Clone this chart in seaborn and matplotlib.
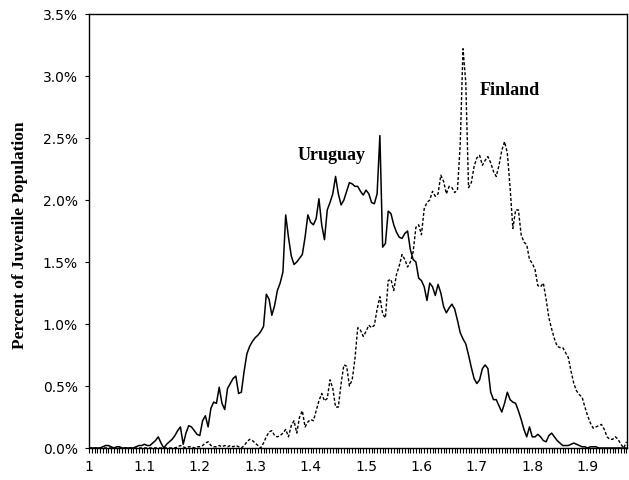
import numpy as np
import pandas as pd
import seaborn as sns
import matplotlib
matplotlib.use("Agg")
import matplotlib.pyplot as plt
from matplotlib.ticker import MultipleLocator, FuncFormatter

# Dados: percentual da populacao juvenil por valor (passo 0.005)
valores_x = np.round(1.0 + 0.005 * np.arange(195), 3)

uruguay = [
    0, 0, 0, 0, 0, 0.01, 0.02, 0.02, 0.01, 0,
    0.01, 0.01, 0, 0, 0, 0, 0, 0.01, 0.02, 0.02,
    0.03, 0.02, 0.02, 0.04, 0.06, 0.09, 0.04, 0.00, 0.03, 0.05,
    0.07, 0.10, 0.14, 0.17, 0.03, 0.12, 0.18, 0.17, 0.14, 0.11,
    0.10, 0.22, 0.26, 0.17, 0.32, 0.37, 0.36, 0.49, 0.36, 0.31,
    0.48, 0.52, 0.56, 0.58, 0.44, 0.45, 0.62, 0.76, 0.82, 0.86,
    0.89, 0.91, 0.94, 0.98, 1.24, 1.20, 1.07, 1.15, 1.27, 1.33,
    1.42, 1.88, 1.70, 1.55, 1.48, 1.50, 1.53, 1.56, 1.70, 1.88,
    1.82, 1.80, 1.85, 2.01, 1.80, 1.68, 1.92, 1.98, 2.05, 2.19,
    2.05, 1.96, 2.00, 2.07, 2.14, 2.13, 2.11, 2.11, 2.07, 2.04,
    2.08, 2.05, 1.98, 1.97, 2.05, 2.52, 1.62, 1.65, 1.91, 1.89,
    1.80, 1.74, 1.70, 1.69, 1.73, 1.75, 1.60, 1.52, 1.50, 1.37,
    1.35, 1.30, 1.19, 1.33, 1.30, 1.23, 1.32, 1.25, 1.14, 1.09,
    1.13, 1.16, 1.12, 1.03, 0.93, 0.88, 0.84, 0.75, 0.65, 0.56,
    0.52, 0.55, 0.64, 0.67, 0.64, 0.45, 0.39, 0.39, 0.34, 0.29,
    0.36, 0.45, 0.39, 0.37, 0.36, 0.30, 0.23, 0.15, 0.09, 0.17,
    0.09, 0.09, 0.11, 0.09, 0.06, 0.05, 0.10, 0.12, 0.09, 0.06,
    0.04, 0.02, 0.02, 0.02, 0.03, 0.04, 0.03, 0.02, 0.01, 0.01,
    0, 0.01, 0.01, 0.01, 0, 0, 0, 0, 0, 0,
    0, 0, 0, 0, 0,
]

finland = [
    0, 0, 0, 0, 0, 0, 0, 0, 0, 0,
    0, 0, 0, 0, 0, 0, 0, 0, 0, 0,
    0, 0, 0, 0, 0, 0, 0, 0, 0, 0,
    0, 0, 0.01, 0.02, 0.01, 0, 0.01, 0.01, 0, 0.01,
    0.01, 0.02, 0.04, 0.05, 0.02, 0.01, 0.01, 0.02, 0.01, 0.02,
    0.01, 0.02, 0.01, 0.02, 0.01, 0.00, 0.02, 0.05, 0.07, 0.06,
    0.04, 0.02, 0.00, 0.04, 0.09, 0.13, 0.14, 0.10, 0.09, 0.10,
    0.12, 0.15, 0.09, 0.18, 0.22, 0.12, 0.25, 0.30, 0.17, 0.21,
    0.23, 0.22, 0.30, 0.38, 0.44, 0.38, 0.40, 0.55, 0.48, 0.33,
    0.33, 0.52, 0.67, 0.66, 0.50, 0.55, 0.72, 0.97, 0.95, 0.90,
    0.94, 0.99, 0.97, 0.99, 1.12, 1.22, 1.08, 1.05, 1.35, 1.36,
    1.27, 1.40, 1.47, 1.56, 1.52, 1.46, 1.50, 1.58, 1.78, 1.80,
    1.72, 1.93, 1.98, 2.00, 2.07, 2.03, 2.05, 2.20, 2.15, 2.05,
    2.11, 2.10, 2.06, 2.08, 2.45, 3.22, 2.95, 2.10, 2.14, 2.27,
    2.34, 2.36, 2.28, 2.32, 2.35, 2.30, 2.23, 2.19, 2.28, 2.40,
    2.47, 2.38, 2.10, 1.77, 1.92, 1.92, 1.72, 1.66, 1.64, 1.52,
    1.49, 1.44, 1.31, 1.30, 1.33, 1.20, 1.05, 0.96, 0.88, 0.82,
    0.81, 0.81, 0.77, 0.73, 0.62, 0.52, 0.46, 0.43, 0.41, 0.33,
    0.26, 0.20, 0.16, 0.17, 0.18, 0.19, 0.15, 0.09, 0.07, 0.07,
    0.09, 0.07, 0.03, 0.00, 0.05,
]

df = pd.DataFrame({"x": valores_x, "Uruguay": uruguay, "Finland": finland})

# Estilo
sns.set_style("ticks")
plt.rcParams["font.family"] = ["DejaVu Sans"]
plt.rcParams["text.color"] = "black"
plt.rcParams["axes.labelcolor"] = "black"
plt.rcParams["xtick.color"] = "black"
plt.rcParams["ytick.color"] = "black"

fig = plt.figure(figsize=(6.29, 4.80), dpi=100)
ax = fig.add_axes([89 / 629, 32 / 480, 538 / 629, 434 / 480])

sns.lineplot(data=df, x="x", y="Uruguay", ax=ax, color="black", linewidth=1.1)
sns.lineplot(data=df, x="x", y="Finland", ax=ax, color="black", linewidth=1.0,
             linestyle=(0, (2.2, 1.4)))

ax.set_xlim(1.0, 1.971)
ax.set_ylim(0, 3.5)

ax.xaxis.set_major_locator(MultipleLocator(0.1))
ax.xaxis.set_minor_locator(MultipleLocator(0.005))
ax.xaxis.set_major_formatter(FuncFormatter(lambda v, p: f"{v:g}"))
ax.yaxis.set_major_locator(MultipleLocator(0.5))
ax.yaxis.set_major_formatter(FuncFormatter(lambda v, p: f"{v:.1f}%"))

ax.tick_params(axis="x", which="both", direction="out", length=3.5, width=0.8,
               labelsize=10, pad=5, color="black", labelcolor="black")
ax.tick_params(axis="y", which="major", direction="out", length=3, width=0.8,
               labelsize=10, pad=5, color="black", labelcolor="black")

for s in ax.spines.values():
    s.set_visible(True)
    s.set_color("black")
    s.set_linewidth(1.0)

ax.set_xlabel("")
ax.set_ylabel("Percent of Juvenile Population", family="Liberation Serif",
              fontweight="bold", fontsize=12.5, color="black")
ax.yaxis.set_label_coords(-0.113, 0.49)

ax.text(1.4386, 2.36, "Uruguay", family="Liberation Serif", fontweight="bold",
        fontsize=13, ha="center", va="center", color="black")
ax.text(1.760, 2.88, "Finland", family="Liberation Serif", fontweight="bold",
        fontsize=13, ha="center", va="center", color="black")

plt.savefig("out.png", dpi=100)
